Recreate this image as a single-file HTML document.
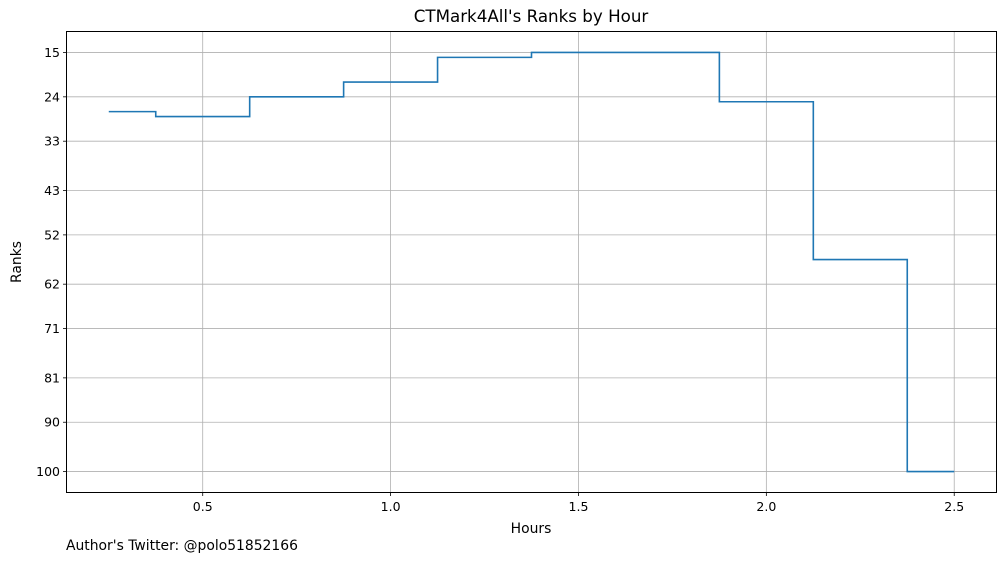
<!DOCTYPE html>
<html><head><meta charset="utf-8"><style>
html,body{margin:0;padding:0;background:#fff;}
svg{display:block;font-family:"DejaVu Sans","Liberation Sans",sans-serif;}
</style></head><body>
<svg id="chart" width="1005" height="562" viewBox="0 0 1005 562" xmlns="http://www.w3.org/2000/svg">
<text x="531" y="22" text-anchor="middle" font-size="16.7">CTMark4All's Ranks by Hour</text>
<text x="531" y="533" text-anchor="middle" font-size="13.9">Hours</text>
<text transform="translate(21,262) rotate(-90)" text-anchor="middle" font-size="13.9">Ranks</text>
<text x="66" y="550" font-size="13.9">Author's Twitter: @polo51852166</text>
<g id="grid"></g>
<g id="series"></g>
<rect x="66.5" y="31.5" width="930" height="461" fill="none" stroke="#000" stroke-width="1"/>
<g id="ticks"></g>
</svg>
<script>
const hours = [0.25,0.5,0.75,1.0,1.25,1.5,1.75,2.0,2.25,2.5];
const ranks = [27,28,24,21,16,15,15,25,57,100];
const xTicks = [0.5,1.0,1.5,2.0,2.5];
const xTickLabels = ["0.5","1.0","1.5","2.0","2.5"];
const yTicks = [15,24,33,43,52,62,71,81,90,100];
const yTickLabels = ["15","24","33","43","52","62","71","81","90","100"];

const NS="http://www.w3.org/2000/svg";
const L=66.5,R=996.5,T=31.5,B=492.5;
const xMin=0.1375,xMax=2.6125,yMin=10.75,yMax=104.25;
function xs(v){return L+(v-xMin)/(xMax-xMin)*(R-L);}
function ys(v){return T+(v-yMin)/(yMax-yMin)*(B-T);}
function mk(tag,attrs,parent){const e=document.createElementNS(NS,tag);for(const k in attrs)e.setAttribute(k,attrs[k]);parent.appendChild(e);return e;}
const grid=document.getElementById('grid'),ticks=document.getElementById('ticks'),series=document.getElementById('series');
xTicks.forEach((v,i)=>{
  const x=xs(v);
  const g=mk('line',{x1:x,x2:x,y1:T,y2:B,stroke:'#b0b0b0','stroke-width':0.8},grid);
  
  
  const t=mk('line',{x1:x,x2:x,y1:B,y2:B+3.5,stroke:'#000','stroke-width':0.8},ticks);
  
  
  const lb=mk('text',{x:x,y:B+18.5,'text-anchor':'middle','font-size':12.5},ticks);
  lb.textContent=xTickLabels[i];
  
  
});
yTicks.forEach((v,i)=>{
  const y=ys(v);
  const g=mk('line',{x1:L,x2:R,y1:y,y2:y,stroke:'#b0b0b0','stroke-width':0.8},grid);
  
  
  const t=mk('line',{x1:L-3.5,x2:L,y1:y,y2:y,stroke:'#000','stroke-width':0.8},ticks);
  
  
  const lb=mk('text',{x:L-6.5,y:y+4.5,'text-anchor':'end','font-size':12.5},ticks);
  lb.textContent=yTickLabels[i];
  
  
});
let d='';
for(let i=0;i<hours.length;i++){
  const y=ys(ranks[i]);
  const x0=i===0?xs(hours[0]):xs((hours[i-1]+hours[i])/2);
  const x1=i===hours.length-1?xs(hours[i]):xs((hours[i]+hours[i+1])/2);
  d+=(i===0?'M':'L')+x0+','+y+'L'+x1+','+y;
}
const p=mk('path',{d:d,fill:'none',stroke:'#1f77b4','stroke-width':1.6},series);


</script>
</body></html>
